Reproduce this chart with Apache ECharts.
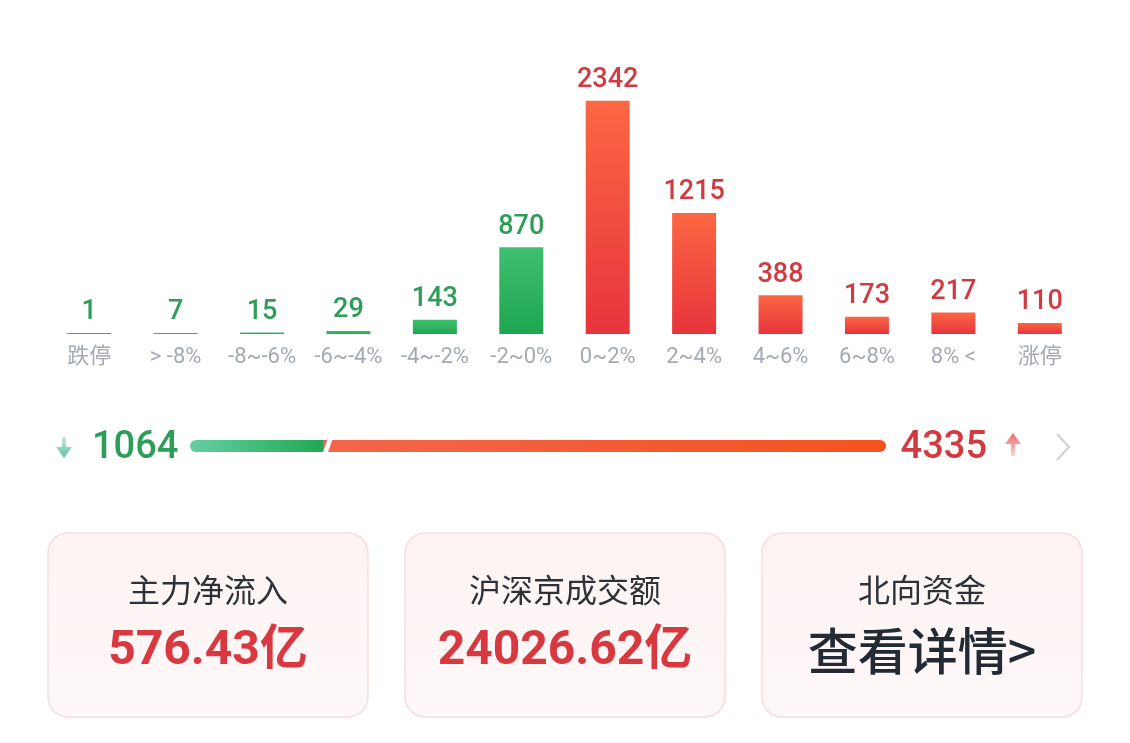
<!DOCTYPE html>
<html>
<head>
<meta charset="utf-8">
<script src="https://cdn.jsdelivr.net/npm/echarts@6/dist/echarts.min.js"></script>
<style>
html,body{margin:0;padding:0;background:#fff;}
#chart{width:1130px;height:743px;}
</style>
</head>
<body>
<div id="chart"></div>
<script>
const categories = ['跌停', '> -8%', '-8~-6%', '-6~-4%', '-4~-2%', '-2~0%', '0~2%', '2~4%', '4~6%', '6~8%', '8% <', '涨停'];
const counts = [1, 7, 15, 29, 143, 870, 2342, 1215, 388, 173, 217, 110];
const downCategoryCount = 6;
const downTotal = 1064;
const upTotal = 4335;
const cardTitles = ['主力净流入', '沪深京成交额', '北向资金'];
const cardValues = ['576.43亿', '24026.62亿', '查看详情>'];

const GREEN_TXT = '#2e9d58';
const RED_TXT = '#d23a41';
const NUM_FONT = 'Roboto, "Noto Sans", sans-serif';
const CJK_FONT = '"Noto Sans CJK SC", "Noto Sans", sans-serif';

const chart = echarts.init(document.getElementById('chart'), null, {renderer: 'canvas'});

const barData = counts.map((v, i) => {
  const down = i < downCategoryCount;
  return {
    value: v,
    itemStyle: {
      color: down
        ? new echarts.graphic.LinearGradient(0, 0, 0, 1, [{offset: 0, color: '#3fbf70'}, {offset: 1, color: '#1ea650'}])
        : new echarts.graphic.LinearGradient(0, 0, 0, 1, [{offset: 0, color: '#fb6743'}, {offset: 1, color: '#e7343c'}])
    },
    label: {color: down ? GREEN_TXT : RED_TXT}
  };
});

const progressData = [
  [0, downTotal, 0],
  [downTotal, downTotal + upTotal, 1]
];

function renderProgress(params, api) {
  const s = api.coord([api.value(0), 0]);
  const e = api.coord([api.value(1), 0]);
  const kind = api.value(2);
  const cy = s[1];
  const h = 12;
  const top = cy - h / 2;
  const bottom = cy + h / 2;
  if (kind === 0) {
    return {
      type: 'rect',
      shape: {x: s[0], y: top, width: e[0] - s[0] + 4, height: h, r: [6, 0, 0, 6]},
      style: {fill: new echarts.graphic.LinearGradient(0, 0, 1, 0, [{offset: 0, color: '#66cfa1'}, {offset: 1, color: '#1da54f'}])}
    };
  }
  const gx = s[0];
  return {
    type: 'group',
    children: [
      {
        type: 'rect',
        shape: {x: gx - 4, y: top, width: e[0] - gx + 4, height: h, r: [0, 6, 6, 0]},
        style: {fill: new echarts.graphic.LinearGradient(0, 0, 1, 0, [{offset: 0, color: '#f2664c'}, {offset: 1, color: '#f5521f'}])}
      },
      {
        type: 'polygon',
        z2: 10,
        shape: {points: [[gx + 0.5, top - 1], [gx + 5.5, top - 1], [gx + 0.5, bottom + 1], [gx - 4.5, bottom + 1]]},
        style: {fill: '#ffffff'}
      }
    ]
  };
}

const cardX = [48, 405, 762];
const cardW = 320, cardY = 533, cardH = 184;
const graphics = [];
cardX.forEach((x, i) => {
  graphics.push({
    type: 'rect',
    shape: {x: x, y: cardY, width: cardW, height: cardH, r: 20},
    style: {
      fill: new echarts.graphic.LinearGradient(0, 0, 0, 1, [{offset: 0, color: '#fdf3f3'}, {offset: 1, color: '#fff8f8'}]),
      stroke: '#f5dede', lineWidth: 1.5
    },
    z: 1
  });
  graphics.push({
    type: 'text',
    x: x + cardW / 2, y: 590,
    style: {text: cardTitles[i], fill: '#2e3238', font: '400 32px ' + CJK_FONT, align: 'center', verticalAlign: 'middle'},
    z: 2
  });
  const isLink = i === 2;
  graphics.push({
    type: 'text',
    x: x + cardW / 2, y: isLink ? 651 : 652,
    style: {
      text: cardValues[i],
      fill: isLink ? '#222a33' : '#d8383f',
      font: (isLink ? '500 50px ' : 'bold 48px ') + (isLink ? CJK_FONT : 'Roboto, "Noto Sans CJK SC", sans-serif'),
      align: 'center', verticalAlign: 'middle'
    },
    z: 2
  });
});

// breadth numbers
graphics.push({
  type: 'text', x: 92, y: 448,
  style: {text: String(downTotal), fill: GREEN_TXT, font: '500 38px ' + NUM_FONT, align: 'left', verticalAlign: 'middle'}
});
graphics.push({
  type: 'text', x: 987, y: 448,
  style: {text: String(upTotal), fill: RED_TXT, font: '500 38px ' + NUM_FONT, align: 'right', verticalAlign: 'middle'}
});
// down arrow
graphics.push({
  type: 'polygon',
  shape: {points: [[62, 437], [66, 437], [66, 447], [72, 447], [64, 458], [56, 447], [62, 447]]},
  style: {fill: new echarts.graphic.LinearGradient(0, 0, 0, 1, [{offset: 0, color: '#c8ebe1'}, {offset: 1, color: '#5cbfa4'}])}
});
// up arrow
graphics.push({
  type: 'polygon',
  shape: {points: [[1013, 433], [1021, 444], [1015, 444], [1015, 456], [1011, 456], [1011, 444], [1005, 444]]},
  style: {fill: new echarts.graphic.LinearGradient(0, 0, 0, 1, [{offset: 0, color: '#ef6a6c'}, {offset: 1, color: '#fbd6d6'}])}
});
// chevron
graphics.push({
  type: 'polyline',
  shape: {points: [[1057, 434], [1069, 447], [1057, 460]]},
  style: {stroke: '#cfcfd2', lineWidth: 2, fill: null}
});

const option = {
  backgroundColor: '#ffffff',
  animation: false,
  grid: [
    {left: 46, right: 47, top: 85, bottom: 409},
    {left: 190, width: 696, top: 440, height: 12}
  ],
  xAxis: [
    {
      gridIndex: 0, type: 'category', data: categories,
      axisLine: {show: false}, axisTick: {show: false}, splitLine: {show: false},
      axisLabel: {color: '#a3aab3', fontSize: 22, fontFamily: 'Roboto, "Noto Sans CJK SC", sans-serif', margin: 12, interval: 0}
    },
    {gridIndex: 1, type: 'value', min: 0, max: downTotal + upTotal, show: false}
  ],
  yAxis: [
    {gridIndex: 0, type: 'value', min: 0, max: 2500, show: false, splitLine: {show: false}},
    {gridIndex: 1, type: 'category', data: ['breadth'], show: false}
  ],
  series: [
    {
      type: 'bar', xAxisIndex: 0, yAxisIndex: 0,
      data: barData,
      barWidth: 44,
      barMinHeight: 1,
      label: {show: true, position: 'top', distance: 7, fontSize: 27, fontFamily: NUM_FONT, fontWeight: 500}
    },
    {
      type: 'custom', xAxisIndex: 1, yAxisIndex: 1,
      renderItem: renderProgress,
      data: progressData,
      encode: {x: [0, 1]}
    }
  ],
  graphic: graphics
};
chart.setOption(option);
</script>
</body>
</html>
